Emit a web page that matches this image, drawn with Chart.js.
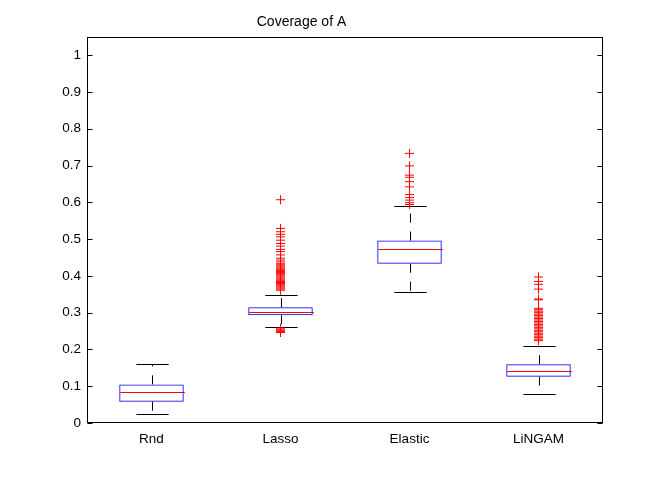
<!DOCTYPE html>
<html>
<head>
<meta charset="utf-8">
<script src="https://cdn.jsdelivr.net/npm/chart.js@4.4.1/dist/chart.umd.min.js"></script>
<style>
  html, body { margin: 0; padding: 0; background: #fff; }
</style>
</head>
<body>
<canvas id="boxChart" width="664" height="500"></canvas>
<script>
// categories and box statistics
const methods = ['Rnd', 'Lasso', 'Elastic', 'LiNGAM'];
const lowerWhisker = [0.025, 0.261, 0.356, 0.079];
const quartile1    = [0.058, 0.293, 0.433, 0.126];
const medians      = [0.083, 0.301, 0.472, 0.142];
const quartile3    = [0.105, 0.315, 0.496, 0.160];
const upperWhisker = [0.160, 0.348, 0.590, 0.208];

// outliers per method
const outliersRnd = [];
const outliersLasso = [
  0.607, 0.529, 0.520, 0.513, 0.506, 0.497, 0.488, 0.481, 0.472, 0.466,
  0.457, 0.448, 0.443, 0.438, 0.433, 0.430, 0.427, 0.424, 0.421, 0.418,
  0.415, 0.412, 0.409, 0.406, 0.403, 0.400, 0.397, 0.394, 0.391, 0.388,
  0.385, 0.382, 0.379, 0.376, 0.373, 0.370, 0.367, 0.364, 0.361,
  0.258, 0.255, 0.252, 0.249, 0.246
];
const outliersElastic = [
  0.733, 0.699, 0.674, 0.668, 0.656, 0.642, 0.621, 0.613, 0.606, 0.599, 0.594
];
const outliersLingam = [
  0.397, 0.385, 0.377, 0.364, 0.337, 0.335, 0.312, 0.308, 0.304, 0.300,
  0.296, 0.292, 0.288, 0.284, 0.280, 0.276, 0.272, 0.268, 0.264, 0.260,
  0.256, 0.252, 0.248, 0.244, 0.240, 0.236, 0.232, 0.228, 0.224
];
const yTicks = [0, 0.1, 0.2, 0.3, 0.4, 0.5, 0.6, 0.7, 0.8, 0.9, 1];

const outlierGroups = [outliersRnd, outliersLasso, outliersElastic, outliersLingam];
const outlierPoints = [];
outlierGroups.forEach(function(list, i) {
  list.forEach(function(v) { outlierPoints.push({ x: methods[i], y: v }); });
});

Chart.defaults.font.family = '"Liberation Sans", Arial, Helvetica, sans-serif';
Chart.defaults.color = '#000';

// whiskers, caps, medians, frame and inward ticks
const boxParts = {
  id: 'boxParts',
  beforeDatasetsDraw(chart) {
    const ctx = chart.ctx;
    const x = chart.scales.x, y = chart.scales.y;
    const step = x.getPixelForValue(1) - x.getPixelForValue(0);
    const capHalf = step * 0.125;
    const boxHalf = step * 0.25;
    ctx.save();
    ctx.lineWidth = 1;
    methods.forEach(function(m, i) {
      const cx = Math.round(x.getPixelForValue(i)) + 0.5;
      // dashed whiskers, drawn out from the box
      ctx.strokeStyle = '#000';
      ctx.setLineDash([9, 9]);
      ctx.beginPath();
      ctx.moveTo(cx, y.getPixelForValue(quartile3[i]));
      ctx.lineTo(cx, y.getPixelForValue(upperWhisker[i]));
      ctx.moveTo(cx, y.getPixelForValue(quartile1[i]));
      ctx.lineTo(cx, y.getPixelForValue(lowerWhisker[i]));
      ctx.stroke();
      ctx.setLineDash([]);
      // caps
      ctx.beginPath();
      const yu = Math.round(y.getPixelForValue(upperWhisker[i])) + 0.5;
      const yl = Math.round(y.getPixelForValue(lowerWhisker[i])) + 0.5;
      ctx.moveTo(cx - capHalf, yu); ctx.lineTo(cx + capHalf, yu);
      ctx.moveTo(cx - capHalf, yl); ctx.lineTo(cx + capHalf, yl);
      ctx.stroke();
      // median
      ctx.strokeStyle = '#ff0000';
      const ym = Math.round(y.getPixelForValue(medians[i])) + 0.5;
      ctx.beginPath();
      ctx.moveTo(cx - boxHalf, ym); ctx.lineTo(cx + boxHalf, ym);
      ctx.stroke();
    });
    ctx.restore();
  },
  afterDraw(chart) {
    const ctx = chart.ctx;
    const a = chart.chartArea;
    const y = chart.scales.y;
    ctx.save();
    ctx.strokeStyle = '#000';
    ctx.lineWidth = 1;
    const l = Math.round(a.left) + 0.5, r = Math.round(a.right) - 0.5;
    const t = Math.round(a.top) + 0.5, b = Math.round(a.bottom) - 0.5;
    ctx.strokeRect(l, t, r - l, b - t);
    ctx.beginPath();
    yTicks.forEach(function(v) {
      const py = Math.round(y.getPixelForValue(v)) + 0.5;
      ctx.moveTo(l, py); ctx.lineTo(l + 5, py);
      ctx.moveTo(r, py); ctx.lineTo(r - 5, py);
    });
    ctx.stroke();
    ctx.restore();
  }
};

const ctx = document.getElementById('boxChart').getContext('2d');
const boxChart = new Chart(ctx, {
  type: 'bar',
  data: {
    labels: methods,
    datasets: [{
      type: 'line',
      label: 'Outliers',
      data: outlierPoints,
      showLine: false,
      pointStyle: 'cross',
      pointRadius: 4.5,
      pointBorderWidth: 1,
      pointBorderColor: '#ff0000',
      pointBackgroundColor: '#ff0000',
      order: 0
    }, {
      label: 'Box',
      data: methods.map(function(m, i) { return [quartile1[i], quartile3[i]]; }),
      backgroundColor: 'rgba(0,0,0,0)',
      borderColor: '#0000ff',
      borderWidth: 1,
      borderSkipped: false,
      barPercentage: 0.5,
      categoryPercentage: 1,
      order: 1
    }]
  },
  plugins: [boxParts],
  options: {
    responsive: false,
    animation: false,
    devicePixelRatio: 1,
    layout: { padding: { left: 0, right: 61, top: 0, bottom: 0 } },
    plugins: {
      legend: { display: false },
      tooltip: { enabled: false },
      title: {
        display: true,
        text: 'Coverage of A',
        color: '#000',
        font: { size: 14, weight: 'normal' },
        padding: { top: 14, bottom: 6 }
      }
    },
    scales: {
      x: {
        type: 'category',
        offset: true,
        grid: { display: false, drawTicks: false },
        border: { display: false },
        ticks: { font: { size: 13.5 }, padding: 8, color: '#000' },
        afterFit: function(scale) { scale.height = 77; }
      },
      y: {
        min: 0,
        max: 1.05,
        grid: { display: false, drawTicks: false },
        border: { display: false },
        afterBuildTicks: function(scale) {
          scale.ticks = yTicks.map(function(v) { return { value: v }; });
        },
        ticks: {
          font: { size: 13.5 },
          padding: 6,
          color: '#000',
          callback: function(value) { return String(Math.round(value * 10) / 10); }
        },
        afterFit: function(scale) { scale.width = 87; }
      }
    }
  }
});
</script>
</body>
</html>
